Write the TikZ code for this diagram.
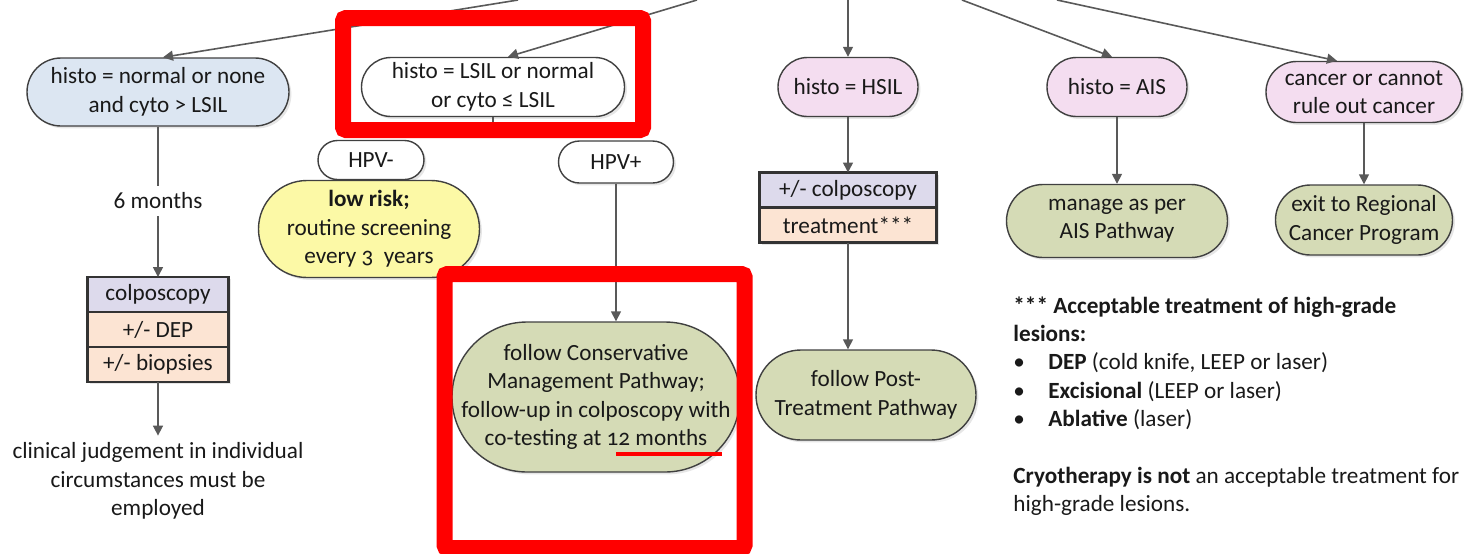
\documentclass[tikz,border=0pt]{standalone}
\usepackage{fontspec}
\setmainfont{Carlito}
\usepackage{tikz}
\usetikzlibrary{arrows.meta,positioning,shadows}

\definecolor{histoblue}{HTML}{DCE6F2}
\definecolor{histopink}{HTML}{F4DDF0}
\definecolor{lowyellow}{HTML}{FCF9A6}
\definecolor{pathgreen}{HTML}{D5DBB6}
\definecolor{colpolav}{HTML}{DDDAEC}
\definecolor{txpeach}{HTML}{FCE4D3}
\definecolor{edgegrey}{HTML}{404040}
\definecolor{linegrey}{HTML}{595959}
\definecolor{markred}{HTML}{FF0000}

\newcommand{\oldnum}{\addfontfeatures{Numbers=OldStyle}}
\newcommand{\notebullet}{\makebox[17.5pt][l]{\textbullet}}

\tikzset{
  pill/.style 2 args={rectangle, draw=edgegrey, line width=0.7pt, align=center, inner sep=0pt,
    minimum width=#1, minimum height=#2, rounded corners=#2/2,
    drop shadow={opacity=0.2, shadow xshift=1.2pt, shadow yshift=-1.2pt}},
  stackbox/.style={rectangle, draw=black!80, line width=1.1pt, inner sep=0pt, outer sep=0pt,
    minimum height=17.5pt, minimum width=#1,
    drop shadow={opacity=0.2, shadow xshift=1.2pt, shadow yshift=-1.2pt}},
  flow/.style={draw=linegrey, line width=0.8pt, -{Triangle[length=5pt,width=5pt]}},
  stub/.style={draw=linegrey, line width=0.8pt},
  markbox/.style={draw=markred, line width=8pt, rounded corners=1.5pt},
}

\begin{document}
\begin{tikzpicture}[x=0.5pt, y=-0.5pt, font=\fontsize{11.6}{14.2}\selectfont, text=black!90]
	\useasboundingbox (0,0) rectangle (1464,553);

	% histology results
	\node[pill={131pt}{34pt}, fill=histoblue] (normal) at (158,92) {histo = normal or none\\and cyto > LSIL};
	\node[pill={131.5pt}{29.5pt}, fill=white] (lsil) at (493,87) {histo = LSIL or normal\\or cyto ≤ LSIL};
	\node[pill={70pt}{29.5pt}, fill=histopink] (hsil) at (848,87) {histo = HSIL};
	\node[pill={70pt}{29.5pt}, fill=histopink] (ais) at (1117,87) {histo = AIS};
	\node[pill={98pt}{30.5pt}, fill=histopink] (cancer) at (1364,92) {cancer or cannot\\rule out cancer};

	\coordinate (srcA) at (518,0);
	\coordinate (srcB) at (697,0);
	\coordinate (srcC) at (848,0);
	\coordinate (srcD) at (962,0);
	\coordinate (srcE) at (1057,0);
	\draw[flow] (srcA) -- ([xshift=2.5pt]normal.north);
	\draw[flow] (srcB) -- ([xshift=7.5pt]lsil.north);
	\draw[flow] (srcC) -- (hsil.north);
	\draw[flow] (srcD) -- ([xshift=-2.5pt]ais.north);
	\draw[flow] (srcE) -- ([xshift=-13.5pt]cancer.north);

	% normal / none
	\node (sixmo) at (158,201) {6 months};
	\node[stackbox=70.5pt, fill=colpolav] (colpo) at (158,294.5) {colposcopy};
	\node[stackbox=70.5pt, fill=txpeach, below=0pt of colpo] (dep) {+/- DEP};
	\node[stackbox=70.5pt, fill=txpeach, below=0pt of dep] (biopsy) {+/- biopsies};
	\node[align=center] (judge) at (158,481) {clinical judgement in individual\\circumstances must be\\employed};
	\draw[stub] (normal) -- (sixmo);
	\draw[flow] (sixmo) -- (colpo);
	\draw[flow] (biopsy) -- (judge);

	% LSIL
	\coordinate (split) at (493,128);
	\draw[stub] (lsil) -- (split);
	\node[pill={53pt}{19.5pt}, fill=white] (hpvneg) at (371,160) {HPV-};
	\node[pill={57.5pt}{21pt}, fill=white] (hpvpos) at (616,162) {HPV+};
	\node[pill={110.5pt}{48.5pt}, fill=lowyellow] (lowrisk) at (369,229) {\textbf{low risk;}\\routine screening\\every {\oldnum 3}\ \ years};
	\node[pill={144pt}{75pt}, fill=pathgreen] (conserv) at (596,397) {follow Conservative\\Management Pathway;\\follow-up in colposcopy with\\co-testing at {\oldnum 12} months};
	\draw[flow] (hpvpos.south) -- (hpvpos.south |- conserv.north);

	% HSIL
	\node[stackbox=88.5pt, fill=colpolav] (hcolpo) at (848,190) {+/- colposcopy};
	\node[stackbox=88.5pt, fill=txpeach, below=0pt of hcolpo] (treat) {treatment***};
	\node[pill={110pt}{45pt}, fill=pathgreen] (posttx) at (866,395) {follow Post-\\Treatment Pathway};
	\draw[flow] (hsil) -- (hcolpo);
	\draw[flow] (treat.south) -- (treat.south |- posttx.north);

	% AIS and cancer
	\node[pill={110.5pt}{36.5pt}, fill=pathgreen] (aispath) at (1117,221) {manage as per\\AIS Pathway};
	\node[pill={88.5pt}{35pt}, fill=pathgreen] (regional) at (1364,220) {exit to Regional\\Cancer Program};
	\draw[flow] (ais) -- (aispath);
	\draw[flow] (cancer) -- (regional);

	% notes
	\node[anchor=north west, align=left, inner sep=0pt] (notes) at (1013,296) {\textbf{*** Acceptable treatment of high-grade}\\
		\textbf{lesions:}\\
		\notebullet\textbf{DEP} (cold knife, LEEP or laser)\\
		\notebullet\textbf{Excisional} (LEEP or laser)\\
		\notebullet\textbf{Ablative} (laser)\\[14.2pt]
		\textbf{Cryotherapy is not} an acceptable treatment for\\
		high-grade lesions.};

	% red marks
	\draw[markbox] (343,18) rectangle (643,130);
	\draw[markbox] (444.5,274) rectangle (744.5,548);
	\draw[markred, line width=2pt] (616,454) -- (722,454);
\end{tikzpicture}
\end{document}
